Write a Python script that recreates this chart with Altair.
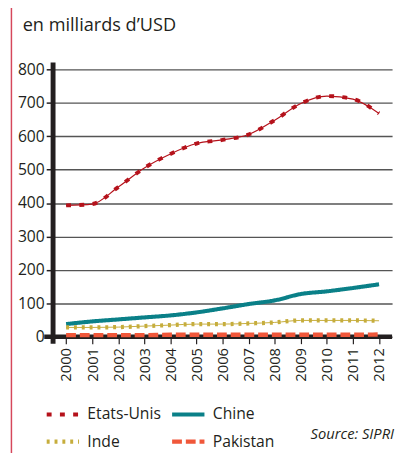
import altair as alt
import pandas as pd

years = list(range(2000, 2013))
etats_unis = [393, 397, 448, 505, 547, 578, 589, 605, 648, 698, 720, 711, 668]
chine = [38, 46, 52, 58, 64, 73, 85, 98, 109, 128, 136, 146, 157]
inde = [28, 28, 29, 32, 35, 38, 38, 40, 43, 49, 49, 49, 48]
pakistan = [5, 5, 5, 5, 6, 6, 6, 6, 6, 6, 6, 6, 7]

series = ["Etats-Unis", "Chine", "Inde", "Pakistan"]
colors = ["#b5121b", "#0a8088", "#c6ad3c", "#f0573a"]
dashes = [[5, 8.5], [1, 0], [3, 5], [10, 4]]
widths = [4, 4.5, 3.5, 5]
y_ticks = [0, 100, 200, 300, 400, 500, 600, 700, 800]

rows = []
for name, vals in zip(series, [etats_unis, chine, inde, pakistan]):
    for yr, v in zip(years, vals):
        rows.append({"annee": yr, "valeur": v, "pays": name})
df = pd.DataFrame(rows)

FONT = "Open Sans"
INK = "#231f20"
W, H = 346, 273

x_enc = alt.X("annee:Q", scale=alt.Scale(domain=[1999.5, 2012.5], nice=False, zero=False),
              axis=alt.Axis(values=years, format="d", labelAngle=270, labelAlign="right",
                            labelBaseline="middle", labelPadding=4, tickSize=7, tickWidth=1.2,
                            tickColor=INK, domain=False, grid=False, title=None,
                            labelFontSize=15, labelFont=FONT, labelColor=INK))
y_enc = alt.Y("valeur:Q", scale=alt.Scale(domain=[0, 800], nice=False),
              axis=alt.Axis(values=y_ticks, tickSize=7, tickWidth=1.5, tickColor=INK,
                            labelPadding=2, domain=False, grid=True, gridColor="#555555",
                            gridWidth=1.4, title=None, labelFontSize=16, labelFont=FONT,
                            labelColor=INK))

base = alt.Chart(df)

thin_us = base.transform_filter(alt.datum.pays == "Etats-Unis").mark_line(
    interpolate="monotone", color=colors[0], strokeWidth=1.2).encode(x=x_enc, y=y_enc)
thin_in = base.transform_filter(alt.datum.pays == "Inde").mark_line(
    interpolate="monotone", color=colors[2], strokeWidth=1.0).encode(x=x_enc, y=y_enc)

main = base.mark_line(interpolate="monotone").encode(
    x=x_enc, y=y_enc,
    stroke=alt.Stroke("pays:N", scale=alt.Scale(domain=series, range=colors),
                      legend=alt.Legend(title=None, orient="none", legendX=-9, legendY=333,
                                        columns=2, direction="horizontal",
                                        symbolType="stroke", symbolSize=1089,
                                        labelFontSize=16, labelFont=FONT, labelColor=INK,
                                        labelOffset=6, columnPadding=1, rowPadding=-10)),
    strokeDash=alt.StrokeDash("pays:N", scale=alt.Scale(domain=series, range=dashes)),
    strokeWidth=alt.StrokeWidth("pays:N", scale=alt.Scale(domain=series, range=widths)),
)

xbar = alt.Chart(alt.Data(values=[{"a": 1}])).mark_rule(color=INK, strokeWidth=4.5).encode(
    x=alt.value(-9), x2=alt.value(W), y=alt.value(H))
ybar = alt.Chart(alt.Data(values=[{"a": 1}])).mark_rule(color=INK, strokeWidth=5).encode(
    x=alt.value(0), y=alt.value(-7), y2=alt.value(H + 7))
redline = alt.Chart(alt.Data(values=[{"a": 1}])).mark_rule(color="#d6475b", strokeWidth=1.5).encode(
    x=alt.value(-42.5), y=alt.value(-70), y2=alt.value(400))
title = alt.Chart(alt.Data(values=[{"t": "en milliards d’USD"}])).mark_text(
    align="left", baseline="alphabetic", fontSize=18.5, font=FONT, color=INK).encode(
    x=alt.value(-31), y=alt.value(-39), text="t:N")
source = alt.Chart(alt.Data(values=[{"t": "Source: SIPRI"}])).mark_text(
    align="right", baseline="middle", fontSize=15, font=FONT, fontStyle="italic", color=INK).encode(
    x=alt.value(W + 2), y=alt.value(372), text="t:N")

chart = alt.layer(redline, thin_us, thin_in, xbar, ybar, main, title, source).properties(
    width=W, height=H,
    autosize=alt.AutoSizeParams(type="none"),
    padding={"left": 46, "top": 58, "right": 4, "bottom": 114},
).configure_view(stroke=None)

chart.save("out.html", embed_options={"renderer": "svg", "actions": False})
